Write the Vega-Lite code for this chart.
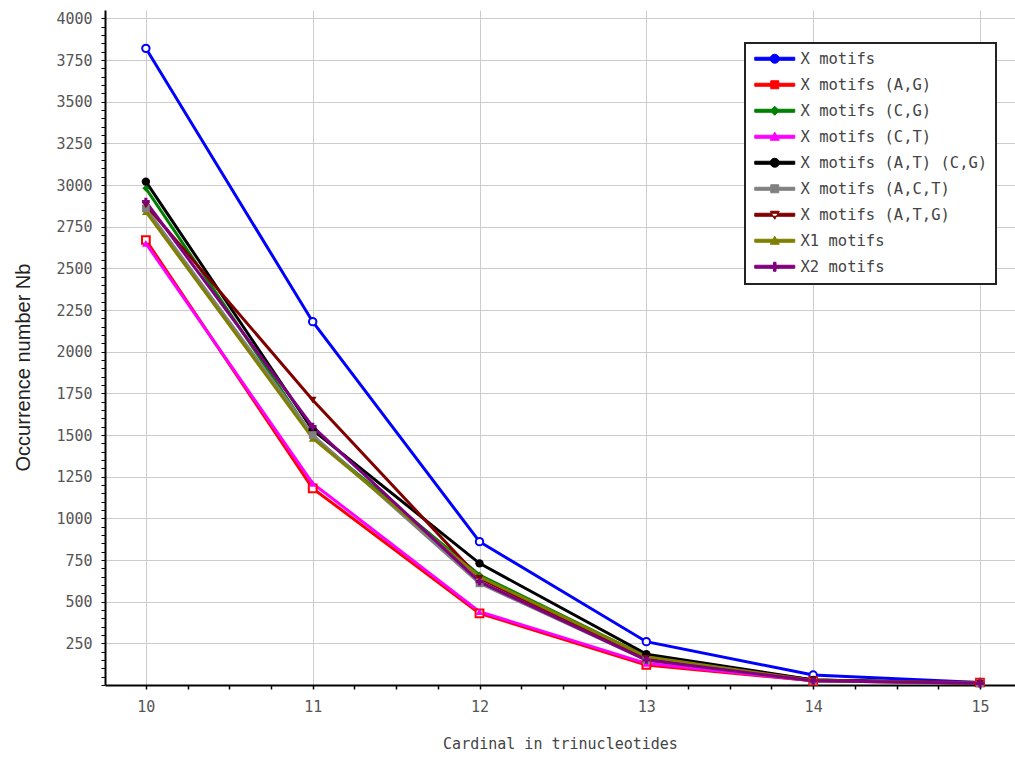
{
  "$schema": "https://vega.github.io/schema/vega-lite/v6.json",
  "width": 910,
  "height": 675,
  "autosize": {"type": "none"},
  "padding": {"left": 105, "top": 10, "right": 0, "bottom": 76},
  "background": "white",
  "config": {
    "view": {"stroke": null},
    "font": "DejaVu Sans",
    "legend": {"strokeWidth": 2}
  },
  "data": {
    "values": [
      {"series": "X motifs", "n": 10, "count": 3820},
      {"series": "X motifs", "n": 11, "count": 2180},
      {"series": "X motifs", "n": 12, "count": 860},
      {"series": "X motifs", "n": 13, "count": 260},
      {"series": "X motifs", "n": 14, "count": 60},
      {"series": "X motifs", "n": 15, "count": 15},
      {"series": "X motifs (A,G)", "n": 10, "count": 2670},
      {"series": "X motifs (A,G)", "n": 11, "count": 1180},
      {"series": "X motifs (A,G)", "n": 12, "count": 430},
      {"series": "X motifs (A,G)", "n": 13, "count": 120},
      {"series": "X motifs (A,G)", "n": 14, "count": 25},
      {"series": "X motifs (A,G)", "n": 15, "count": 15},
      {"series": "X motifs (C,G)", "n": 10, "count": 2980},
      {"series": "X motifs (C,G)", "n": 11, "count": 1490},
      {"series": "X motifs (C,G)", "n": 12, "count": 660},
      {"series": "X motifs (C,G)", "n": 13, "count": 170},
      {"series": "X motifs (C,G)", "n": 14, "count": 30},
      {"series": "X motifs (C,G)", "n": 15, "count": 10},
      {"series": "X motifs (C,T)", "n": 10, "count": 2650},
      {"series": "X motifs (C,T)", "n": 11, "count": 1210},
      {"series": "X motifs (C,T)", "n": 12, "count": 440},
      {"series": "X motifs (C,T)", "n": 13, "count": 130},
      {"series": "X motifs (C,T)", "n": 14, "count": 25},
      {"series": "X motifs (C,T)", "n": 15, "count": 10},
      {"series": "X motifs (A,T) (C,G)", "n": 10, "count": 3020},
      {"series": "X motifs (A,T) (C,G)", "n": 11, "count": 1530},
      {"series": "X motifs (A,T) (C,G)", "n": 12, "count": 730},
      {"series": "X motifs (A,T) (C,G)", "n": 13, "count": 185},
      {"series": "X motifs (A,T) (C,G)", "n": 14, "count": 30},
      {"series": "X motifs (A,T) (C,G)", "n": 15, "count": 10},
      {"series": "X motifs (A,C,T)", "n": 10, "count": 2860},
      {"series": "X motifs (A,C,T)", "n": 11, "count": 1500},
      {"series": "X motifs (A,C,T)", "n": 12, "count": 610},
      {"series": "X motifs (A,C,T)", "n": 13, "count": 150},
      {"series": "X motifs (A,C,T)", "n": 14, "count": 25},
      {"series": "X motifs (A,C,T)", "n": 15, "count": 10},
      {"series": "X motifs (A,T,G)", "n": 10, "count": 2880},
      {"series": "X motifs (A,T,G)", "n": 11, "count": 1710},
      {"series": "X motifs (A,T,G)", "n": 12, "count": 640},
      {"series": "X motifs (A,T,G)", "n": 13, "count": 160},
      {"series": "X motifs (A,T,G)", "n": 14, "count": 30},
      {"series": "X motifs (A,T,G)", "n": 15, "count": 10},
      {"series": "X1 motifs", "n": 10, "count": 2840},
      {"series": "X1 motifs", "n": 11, "count": 1480},
      {"series": "X1 motifs", "n": 12, "count": 650},
      {"series": "X1 motifs", "n": 13, "count": 170},
      {"series": "X1 motifs", "n": 14, "count": 25},
      {"series": "X1 motifs", "n": 15, "count": 10},
      {"series": "X2 motifs", "n": 10, "count": 2900},
      {"series": "X2 motifs", "n": 11, "count": 1550},
      {"series": "X2 motifs", "n": 12, "count": 620},
      {"series": "X2 motifs", "n": 13, "count": 150},
      {"series": "X2 motifs", "n": 14, "count": 25},
      {"series": "X2 motifs", "n": 15, "count": 10}
    ]
  },
  "encoding": {
    "x": {
      "field": "n", "type": "quantitative",
      "scale": {"domain": [9.755, 15.21], "nice": false, "zero": false},
      "axis": {
        "title": "Cardinal in trinucleotides",
        "titleFont": "DejaVu Sans Mono",
        "titleFontSize": 15,
        "titleFontWeight": "normal",
        "titleColor": "#444",
        "titlePadding": 22,
        "values": [10, 10.25, 10.5, 10.75, 11, 11.25, 11.5, 11.75, 12, 12.25, 12.5, 12.75, 13, 13.25, 13.5, 13.75, 14, 14.25, 14.5, 14.75, 15],
        "labelExpr": "datum.value % 1 === 0 ? format(datum.value, 'd') : ''",
        "labelFont": "DejaVu Sans Mono",
        "labelFontSize": 15,
        "labelColor": "#555",
        "labelPadding": 10,
        "domainColor": "#000",
        "domainWidth": 2,
        "tickColor": "#000",
        "tickSize": 4,
        "tickWidth": 1.5,
        "grid": true,
        "gridColor": "#cccccc",
        "gridWidth": 1,
        "gridOpacity": {"condition": {"test": "datum.value % 1 === 0", "value": 1}, "value": 0}
      }
    },
    "y": {
      "field": "count", "type": "quantitative",
      "scale": {"domain": [0, 4050], "nice": false},
      "axis": {
        "title": "Occurrence number Nb",
        "titleFont": "Liberation Sans",
        "titleFontSize": 20,
        "titleFontWeight": "normal",
        "titleColor": "#222",
        "titlePadding": 22,
        "titleY": 357,
        "values": [0, 50, 100, 150, 200, 250, 300, 350, 400, 450, 500, 550, 600, 650, 700, 750, 800, 850, 900, 950, 1000, 1050, 1100, 1150, 1200, 1250, 1300, 1350, 1400, 1450, 1500, 1550, 1600, 1650, 1700, 1750, 1800, 1850, 1900, 1950, 2000, 2050, 2100, 2150, 2200, 2250, 2300, 2350, 2400, 2450, 2500, 2550, 2600, 2650, 2700, 2750, 2800, 2850, 2900, 2950, 3000, 3050, 3100, 3150, 3200, 3250, 3300, 3350, 3400, 3450, 3500, 3550, 3600, 3650, 3700, 3750, 3800, 3850, 3900, 3950, 4000],
        "labelExpr": "datum.value % 250 === 0 && datum.value > 0 ? format(datum.value, 'd') : ''",
        "labelFont": "DejaVu Sans Mono",
        "labelFontSize": 15,
        "labelColor": "#555",
        "labelPadding": 9,
        "domainColor": "#000",
        "domainWidth": 2,
        "tickColor": "#000",
        "tickSize": 4,
        "tickWidth": 1,
        "grid": true,
        "gridColor": "#cccccc",
        "gridWidth": 1,
        "gridOpacity": {"condition": {"test": "datum.value % 250 === 0 && datum.value > 0", "value": 1}, "value": 0}
      }
    },
    "color": {
      "field": "series", "type": "nominal",
      "scale": {
        "domain": ["X motifs", "X motifs (A,G)", "X motifs (C,G)", "X motifs (C,T)", "X motifs (A,T) (C,G)", "X motifs (A,C,T)", "X motifs (A,T,G)", "X1 motifs", "X2 motifs"],
        "range": ["#0000ff", "#ff0000", "#008000", "#ff00ff", "#000000", "#808080", "#800000", "#808000", "#800080"]
      },
      "legend": {
        "title": null,
        "orient": "none",
        "legendX": 640,
        "legendY": 33,
        "strokeColor": "#222",
        "fillColor": "white",
        "padding": 8,
        "rowPadding": 9,
        "labelFont": "DejaVu Sans Mono",
        "labelFontSize": 15.5,
        "labelColor": "#444",
        "labelLimit": 300,
        "labelOffset": 18,
        "symbolSize": 100,
        "symbolStrokeWidth": 1,
        "symbolOffset": 14,
        "symbolType": "M-4,-0.3H4V0.3H-4Z M-0.7,-0.7H0.7V0.7H-0.7Z",
        "encode": {
          "symbols": {
            "update": {
              "shape": {"signal": "['M-4,-0.3H4V0.3H-4Z M0.9,0A0.9,0.9 0 1,1 -0.9,0A0.9,0.9 0 1,1 0.9,0Z', 'M-4,-0.3H4V0.3H-4Z M-0.8,-0.8H0.8V0.8H-0.8Z', 'M-4,-0.3H4V0.3H-4Z M0,-0.9L0.9,0L0,0.9L-0.9,0Z', 'M-4,-0.3H4V0.3H-4Z M0,-0.9L0.9,0.7H-0.9Z', 'M-4,-0.3H4V0.3H-4Z M0.9,0A0.9,0.9 0 1,1 -0.9,0A0.9,0.9 0 1,1 0.9,0Z', 'M-4,-0.3H4V0.3H-4Z M-0.8,-0.8H0.8V0.8H-0.8Z', 'M-4,-0.3H4V0.3H-4Z M0,0.9L0.9,-0.7H-0.9Z', 'M-4,-0.3H4V0.3H-4Z M0,-0.9L0.9,0.7H-0.9Z', 'M-4,-0.3H4V0.3H-4Z M-0.25,-0.9H0.25V-0.25H0.9V0.25H0.25V0.9H-0.25V0.25H-0.9V-0.25H-0.25Z'][indexof(['X motifs', 'X motifs (A,G)', 'X motifs (C,G)', 'X motifs (C,T)', 'X motifs (A,T) (C,G)', 'X motifs (A,C,T)', 'X motifs (A,T,G)', 'X1 motifs', 'X2 motifs'], datum.value)]"}
            }
          }
        }
      }
    }
  },
  "layer": [
    {
      "mark": {"type": "line", "strokeWidth": 3},
      "encoding": {}
    },
    {
      "transform": [{"filter": {"field": "series", "equal": "X motifs"}}],
      "mark": {"type": "point", "shape": "circle", "filled": false, "fill": "white", "fillOpacity": 1, "strokeWidth": 2, "size": 55, "opacity": 1},
      "encoding": {}
    },
    {
      "transform": [{"filter": {"field": "series", "equal": "X motifs (A,G)"}}],
      "mark": {"type": "point", "shape": "square", "filled": false, "fill": "white", "fillOpacity": 1, "strokeWidth": 2, "size": 60, "opacity": 1},
      "encoding": {}
    },
    {
      "transform": [{"filter": {"field": "series", "equal": "X motifs (C,G)"}}],
      "mark": {"type": "point", "shape": "diamond", "filled": true, "size": 50, "opacity": 1},
      "encoding": {}
    },
    {
      "transform": [{"filter": {"field": "series", "oneOf": ["X motifs (C,T)", "X1 motifs"]}}],
      "mark": {"type": "point", "shape": "triangle-up", "filled": true, "size": 60, "opacity": 1},
      "encoding": {}
    },
    {
      "transform": [{"filter": {"field": "series", "equal": "X motifs (A,T) (C,G)"}}],
      "mark": {"type": "point", "shape": "circle", "filled": true, "size": 70, "opacity": 1},
      "encoding": {}
    },
    {
      "transform": [{"filter": {"field": "series", "equal": "X motifs (A,C,T)"}}],
      "mark": {"type": "point", "shape": "square", "filled": true, "size": 60, "opacity": 1},
      "encoding": {}
    },
    {
      "transform": [{"filter": {"field": "series", "equal": "X motifs (A,T,G)"}}],
      "mark": {"type": "point", "shape": "triangle-down", "filled": true, "size": 60, "opacity": 1},
      "encoding": {}
    },
    {
      "transform": [{"filter": {"field": "series", "equal": "X2 motifs"}}],
      "mark": {"type": "point", "shape": "cross", "filled": true, "size": 60, "opacity": 1},
      "encoding": {}
    }
  ]
}
